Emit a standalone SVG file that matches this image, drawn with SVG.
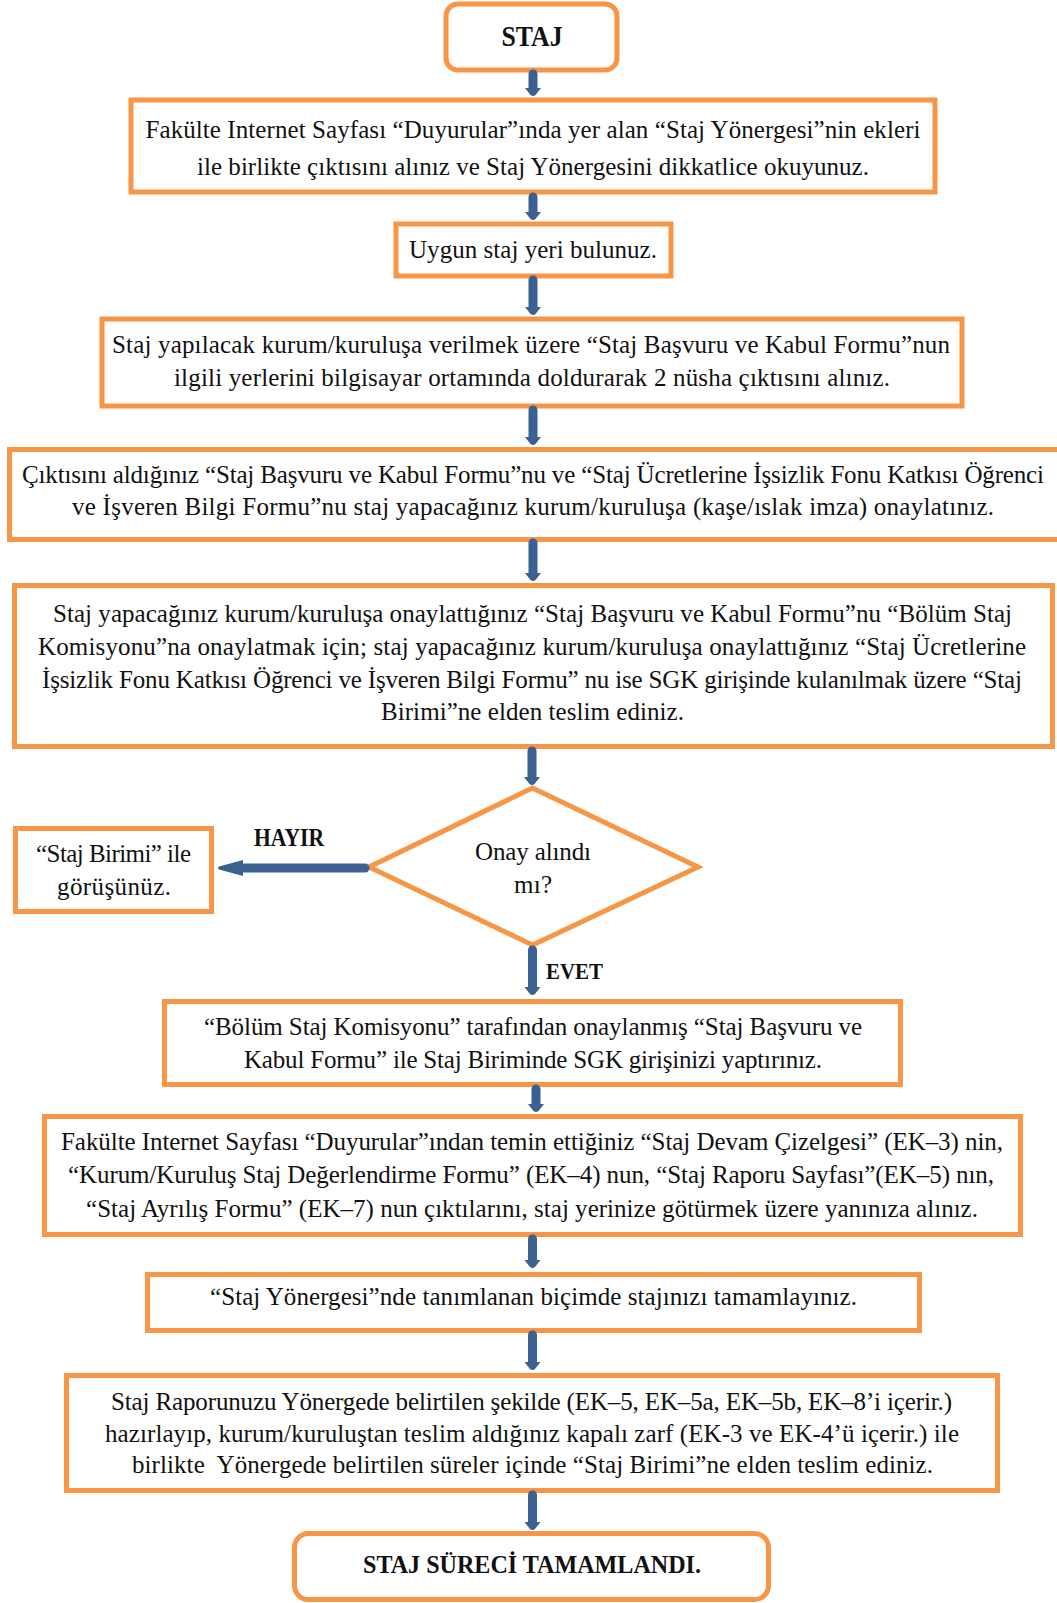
<svg xmlns="http://www.w3.org/2000/svg" width="1057" height="1603" viewBox="0 0 1057 1603">
<style>
.box{fill:#fff;stroke:#F79646;stroke-width:5}
.t{font-family:"Liberation Serif","Times New Roman",serif;font-size:25px;fill:#111;text-anchor:middle}
.b{font-family:"Liberation Serif","Times New Roman",serif;font-weight:bold;fill:#111;text-anchor:middle}
.c{fill:none;stroke:#3B6191;stroke-width:9;stroke-linecap:round}
</style>
<defs>
<marker id="ah" markerUnits="userSpaceOnUse" markerWidth="9" markerHeight="16" viewBox="0 0 9 16" refX="0" refY="8" orient="auto">
<path d="M0,0 L7,5.5 Q9,8 7,10.5 L0,16 Z" fill="#3B6191"/>
</marker>
<marker id="ah2" markerUnits="userSpaceOnUse" markerWidth="26" markerHeight="16" viewBox="0 0 26 16" refX="0" refY="8" orient="auto">
<path d="M0,0 L24,6.5 Q26,8 24,9.5 L0,16 Z" fill="#3B6191"/>
</marker>
</defs>
<rect width="1057" height="1603" fill="#fff"/>
<g id="n1"><rect class="box" x="446" y="4" width="171" height="66" rx="12"/><text class="b" x="532" y="46" font-size="30" textLength="61" lengthAdjust="spacingAndGlyphs">STAJ</text></g>
<g id="n2"><rect class="box" x="131" y="100" width="804" height="92"/>
<text class="t" x="533" y="138" textLength="775">Fakülte Internet Sayfası “Duyurular”ında yer alan “Staj Yönergesi”nin ekleri</text>
<text class="t" x="533" y="175" textLength="672">ile birlikte çıktısını alınız ve Staj Yönergesini dikkatlice okuyunuz.</text></g>
<g id="n3"><rect class="box" x="396" y="224" width="275" height="52"/>
<text class="t" x="533" y="258" textLength="248">Uygun staj yeri bulunuz.</text></g>
<g id="n4"><rect class="box" x="102" y="319" width="860" height="87"/>
<text class="t" x="531" y="353" textLength="838">Staj yapılacak kurum/kuruluşa verilmek üzere “Staj Başvuru ve Kabul Formu”nun</text>
<text class="t" x="532" y="386" textLength="716">ilgili yerlerini bilgisayar ortamında doldurarak 2 nüsha çıktısını alınız.</text></g>
<g id="n5"><rect class="box" x="9.5" y="449.5" width="1060" height="90"/>
<text class="t" x="533" y="483" textLength="1022">Çıktısını aldığınız “Staj Başvuru ve Kabul Formu”nu ve “Staj Ücretlerine İşsizlik Fonu Katkısı Öğrenci</text>
<text class="t" x="533" y="515" textLength="922">ve İşveren Bilgi Formu”nu staj yapacağınız kurum/kuruluşa (kaşe/ıslak imza) onaylatınız.</text></g>
<g id="n6"><rect class="box" x="14.5" y="585.5" width="1038" height="161"/>
<text class="t" x="532.5" y="622" textLength="959">Staj yapacağınız kurum/kuruluşa onaylattığınız “Staj Başvuru ve Kabul Formu”nu “Bölüm Staj</text>
<text class="t" x="532" y="655" textLength="988">Komisyonu”na onaylatmak için; staj yapacağınız kurum/kuruluşa onaylattığınız “Staj Ücretlerine</text>
<text class="t" x="532" y="688" textLength="980">İşsizlik Fonu Katkısı Öğrenci ve İşveren Bilgi Formu” nu ise SGK girişinde kulanılmak üzere “Staj</text>
<text class="t" x="532.5" y="720" textLength="303">Birimi”ne elden teslim ediniz.</text></g>
<g id="n7"><polygon class="box" points="532.5,788 698,867 532.5,945 369,867"/>
<text class="t" x="533" y="860" textLength="116">Onay alındı</text>
<text class="t" x="533" y="893" textLength="38">mı?</text></g>
<g id="n8"><rect class="box" x="15.5" y="828.5" width="196" height="83"/>
<text class="t" x="113.5" y="862" textLength="155">“Staj Birimi” ile</text>
<text class="t" x="114" y="895" textLength="114">görüşünüz.</text></g>
<g id="n9"><rect class="box" x="164.5" y="1001.5" width="736" height="83"/>
<text class="t" x="533" y="1035" textLength="658">“Bölüm Staj Komisyonu” tarafından onaylanmış “Staj Başvuru ve</text>
<text class="t" x="533" y="1068" textLength="578">Kabul Formu” ile Staj Biriminde SGK girişinizi yaptırınız.</text></g>
<g id="n10"><rect class="box" x="44.5" y="1116.5" width="976" height="118"/>
<text class="t" x="532" y="1150" textLength="942">Fakülte Internet Sayfası “Duyurular”ından temin ettiğiniz “Staj Devam Çizelgesi” (EK–3) nin,</text>
<text class="t" x="531" y="1183" textLength="926">“Kurum/Kuruluş Staj Değerlendirme Formu” (EK–4) nun, “Staj Raporu Sayfası”(EK–5) nın,</text>
<text class="t" x="532" y="1217" textLength="892">“Staj Ayrılış Formu” (EK–7) nun çıktılarını, staj yerinize götürmek üzere yanınıza alınız.</text></g>
<g id="n11"><rect class="box" x="147.5" y="1274.5" width="772" height="56"/>
<text class="t" x="533.5" y="1305" textLength="647">“Staj Yönergesi”nde tanımlanan biçimde stajınızı tamamlayınız.</text></g>
<g id="n12"><rect class="box" x="66.5" y="1375.5" width="931" height="115"/>
<text class="t" x="531.5" y="1410" textLength="841">Staj Raporunuzu Yönergede belirtilen şekilde (EK–5, EK–5a, EK–5b, EK–8’i içerir.)</text>
<text class="t" x="532" y="1442" textLength="854">hazırlayıp, kurum/kuruluştan teslim aldığınız kapalı zarf (EK-3 ve EK-4’ü içerir.) ile</text>
<text class="t" x="532.5" y="1473" textLength="801" xml:space="preserve">birlikte  Yönergede belirtilen süreler içinde “Staj Birimi”ne elden teslim ediniz.</text></g>
<g id="n13"><rect class="box" x="294.5" y="1533.5" width="474" height="66" rx="14"/>
<text class="b" x="532" y="1573" font-size="26" textLength="338" lengthAdjust="spacingAndGlyphs">STAJ SÜRECİ TAMAMLANDI.</text></g>
<g id="labels">
<text class="b" x="289" y="846" font-size="25" textLength="70" lengthAdjust="spacingAndGlyphs">HAYIR</text>
<text class="b" x="574.5" y="979" font-size="24" textLength="57" lengthAdjust="spacingAndGlyphs">EVET</text>
</g>
<g id="connectors">
<line class="c" x1="533" y1="74" x2="533" y2="88" marker-end="url(#ah)"/>
<line class="c" x1="533" y1="197" x2="533" y2="212" marker-end="url(#ah)"/>
<line class="c" x1="533" y1="280" x2="533" y2="307" marker-end="url(#ah)"/>
<line class="c" x1="533" y1="410" x2="533" y2="437" marker-end="url(#ah)"/>
<line class="c" x1="533" y1="543" x2="533" y2="573" marker-end="url(#ah)"/>
<line class="c" x1="532" y1="751" x2="532" y2="777" marker-end="url(#ah)"/>
<line class="c" x1="532.5" y1="950" x2="532.5" y2="987" marker-end="url(#ah)"/>
<line class="c" x1="536" y1="1089" x2="536" y2="1104" marker-end="url(#ah)"/>
<line class="c" x1="532.5" y1="1239" x2="532.5" y2="1260" marker-end="url(#ah)"/>
<line class="c" x1="532.5" y1="1335" x2="532.5" y2="1362" marker-end="url(#ah)"/>
<line class="c" x1="532.5" y1="1495" x2="532.5" y2="1522" marker-end="url(#ah)"/>
<line class="c" x1="365" y1="868" x2="243" y2="868" stroke-width="10" marker-end="url(#ah2)"/>
</g>
</svg>
